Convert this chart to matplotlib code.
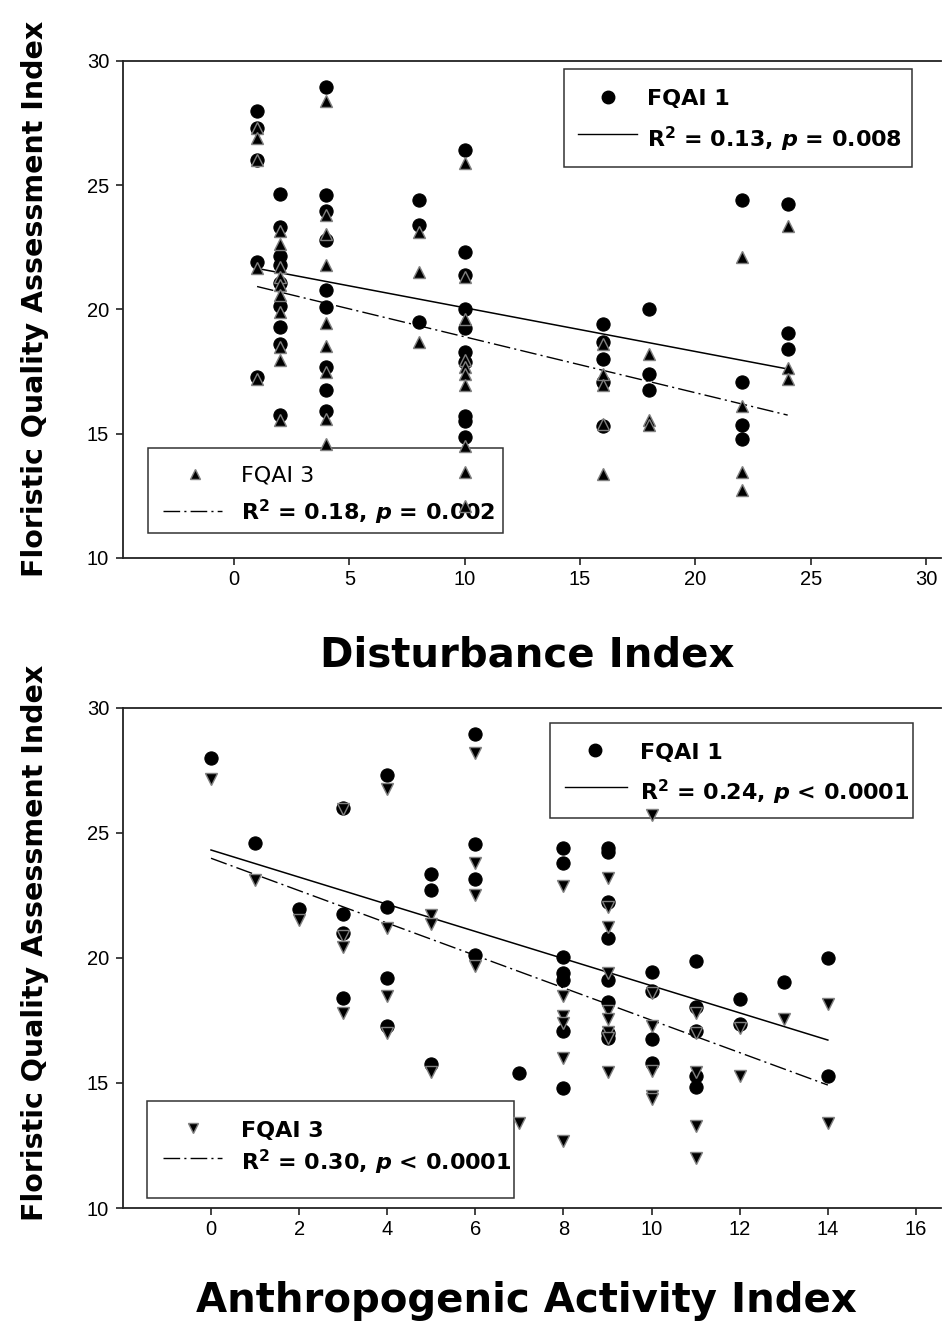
import matplotlib
matplotlib.use('Agg')
import matplotlib.pyplot as plt
import numpy as np
from matplotlib.lines import Line2D
from matplotlib.patches import Rectangle

plt.rcParams['mathtext.fontset'] = 'custom'
plt.rcParams['mathtext.rm'] = 'DejaVu Sans:bold'
plt.rcParams['mathtext.it'] = 'DejaVu Sans:italic:bold'
plt.rcParams['mathtext.bf'] = 'DejaVu Sans:bold'

# ---------------- data ----------------
# Panel 1: Disturbance Index -> FQAI values
di_fqai1 = {
    1: [28.0, 27.3, 26.0, 21.9, 17.3],
    2: [24.65, 23.3, 22.15, 21.8, 21.05, 20.15, 19.3, 18.6, 15.75],
    4: [28.95, 24.6, 23.95, 22.8, 20.8, 20.1, 17.7, 16.75, 15.9],
    8: [24.4, 23.4, 19.5],
    10: [26.4, 22.3, 21.4, 20.0, 19.25, 18.3, 17.9, 15.7, 15.5, 14.85],
    16: [19.4, 18.7, 18.0, 17.1, 15.3],
    18: [20.0, 17.4, 16.75],
    22: [24.4, 17.1, 15.35, 14.8],
    24: [24.25, 19.05, 18.4],
}
di_fqai3 = {
    1: [27.3, 26.9, 26.0, 21.65, 17.2],
    2: [23.15, 22.65, 21.7, 21.3, 21.0, 20.6, 19.9, 18.5, 17.95, 15.55],
    4: [28.4, 23.8, 23.05, 21.8, 19.45, 18.55, 17.5, 15.6, 14.6],
    8: [23.1, 21.5, 18.7],
    10: [25.9, 21.3, 19.6, 17.95, 17.7, 17.4, 16.95, 14.5, 13.45, 12.1],
    16: [18.6, 17.4, 16.95, 15.4, 13.4],
    18: [18.2, 15.55, 15.35],
    22: [22.1, 16.1, 13.45, 12.75],
    24: [23.35, 17.65, 17.2],
}
# Panel 2: Anthropogenic Activity Index -> FQAI values
aai_fqai1 = {
    0: [28.0],
    1: [24.6],
    2: [21.95],
    3: [26.0, 21.75, 21.0, 18.4],
    4: [27.3, 22.05, 19.2, 17.3],
    5: [23.35, 22.7, 15.75],
    6: [28.95, 24.55, 23.15, 20.1],
    7: [15.4],
    8: [24.4, 23.8, 20.05, 19.4, 19.1, 17.1, 14.8],
    9: [24.4, 24.25, 22.25, 20.8, 19.1, 18.25, 17.0, 16.8],
    10: [19.45, 18.7, 16.75, 15.8],
    11: [19.9, 18.05, 17.1, 15.3, 14.85],
    12: [18.35, 17.35],
    13: [19.05],
    14: [20.0, 15.3],
}
aai_fqai3 = {
    0: [27.15],
    1: [23.1],
    2: [21.5],
    3: [25.95, 20.9, 20.45, 17.8],
    4: [26.75, 21.2, 18.5, 17.0],
    5: [21.7, 21.35, 15.45],
    6: [28.2, 23.8, 22.5, 19.7],
    7: [13.4],
    8: [22.9, 18.5, 17.7, 17.4, 16.0, 12.7],
    9: [23.2, 22.05, 21.25, 19.4, 17.9, 17.55, 17.05, 16.8, 15.45],
    10: [25.7, 18.6, 17.3, 15.5, 14.5, 14.35],
    11: [17.8, 17.0, 15.45, 13.3, 12.0],
    12: [17.2, 15.3],
    13: [17.55],
    14: [18.15, 13.4],
}
# regression lines (intercept, slope) as drawn in the reference
di_fit1 = (21.83, -0.176)
di_fit3 = (21.15, -0.225)
aai_fit1 = (24.32, -0.543)
aai_fit3 = (23.99, -0.648)

di_ticks = [0, 5, 10, 15, 20, 25, 30]
aai_ticks = [0, 2, 4, 6, 8, 10, 12, 14, 16]
y_ticks = [10, 15, 20, 25, 30]

labels_di = ["FQAI 1", r"$\mathrm{R^2}$ = 0.13, $p$ = 0.008",
             "FQAI 3", r"$\mathrm{R^2}$ = 0.18, $p$ = 0.002"]
labels_aai = ["FQAI 1", r"$\mathrm{R^2}$ = 0.24, $p$ < 0.0001",
              "FQAI 3", r"$\mathrm{R^2}$ = 0.30, $p$ < 0.0001"]

# ---------------- figure ----------------
W, H = 943, 1325
fig = plt.figure(figsize=(W / 100, H / 100), dpi=100)


def fx(px):
    return px / W


def fy(py):
    return 1 - py / H


def flatten(d):
    xs, ys = [], []
    for k, v in d.items():
        xs += [k] * len(v)
        ys += v
    return np.array(xs, float), np.array(ys, float)


TICKFONT = 'Liberation Sans'
DASHDOT = (0, (12, 3, 1.5, 3))
circ_kw = dict(marker='o', ms=9.5, mfc='black', mec='black', mew=0.8, ls='none')
tri_edge = '#808080'


def setup_axes(ax, xlim, xticks):
    ax.set_xlim(*xlim)
    ax.set_ylim(10, 30)
    ax.set_xticks(xticks)
    ax.set_yticks(y_ticks)
    for s in ['left', 'bottom', 'top']:
        ax.spines[s].set_linewidth(1.3)
        ax.spines[s].set_color('#222222')
    ax.spines['right'].set_visible(False)
    ax.tick_params(direction='out', length=5, width=1.2, color='#222222',
                   labelsize=14.5, top=False, right=False)
    ax.tick_params(axis='y', pad=5)
    ax.tick_params(axis='x', pad=3.5)
    for lab in ax.get_xticklabels() + ax.get_yticklabels():
        lab.set_fontfamily(TICKFONT)


def draw_legend(ax, box, rows, fs=16):
    x0, y0, x1, y1 = box
    ax.add_patch(Rectangle((fx(x0), fy(y1)), fx(x1) - fx(x0), (y1 - y0) / H,
                           transform=fig.transFigure, facecolor='white',
                           edgecolor='#333333', lw=1.1, zorder=1, clip_on=False))
    for r in rows:
        kind = r['kind']
        if kind == 'marker':
            ax.add_line(Line2D([fx(r['hx'])], [fy(r['hy'])], transform=fig.transFigure,
                               clip_on=False, zorder=1.2, **r['style']))
        else:
            ax.add_line(Line2D([fx(r['hx'][0]), fx(r['hx'][1])], [fy(r['hy'])] * 2,
                               transform=fig.transFigure, clip_on=False, zorder=1.2,
                               color='black', lw=1.0, ls=r['ls']))
        ax.text(fx(r['tx']), fy(r['ty']), r['text'], transform=fig.transFigure,
                ha='left', va='baseline', fontsize=fs, fontweight=r.get('weight', 'bold'),
                family='DejaVu Sans', zorder=1.3, clip_on=False)


# ---------------- top panel ----------------
ax1 = fig.add_axes([fx(123), fy(558), fx(941) - fx(123), (558 - 61) / H])
setup_axes(ax1, ((123 - 234) / 23.07, (941 - 234) / 23.07), di_ticks)
x1, y1 = flatten(di_fqai1)
x3, y3 = flatten(di_fqai3)
ax1.plot(x1, y1, zorder=3, **circ_kw)
ax1.plot(x3, y3, marker='^', ms=8.5, mfc='black', mec=tri_edge, mew=1.0, ls='none', zorder=4)
xl = np.array([min(x1), max(x1)])
ax1.plot(xl, di_fit1[0] + di_fit1[1] * xl, color='black', lw=1.1, zorder=2)
ax1.plot(xl, di_fit3[0] + di_fit3[1] * xl, color='black', lw=1.0, ls=DASHDOT, zorder=2)

draw_legend(ax1, (564, 69, 912, 167), [
    dict(kind='marker', hx=608, hy=97, style=dict(marker='o', ms=9, mfc='black', mec='black', ls='none'),
         tx=647, ty=105, text=labels_di[0]),
    dict(kind='line', hx=(578, 637), hy=134, ls='-', tx=647, ty=147, text=labels_di[1]),
])
draw_legend(ax1, (148, 448, 503, 533), [
    dict(kind='marker', hx=195, hy=474, style=dict(marker='^', ms=7.5, mfc='black', mec=tri_edge, ls='none'),
         tx=241, ty=482, text=labels_di[2], weight='normal'),
    dict(kind='line', hx=(163, 222), hy=511, ls=DASHDOT, tx=241, ty=520, text=labels_di[3]),
])

# ---------------- bottom panel ----------------
ax2 = fig.add_axes([fx(123), fy(1208), fx(941) - fx(123), (1208 - 708) / H])
setup_axes(ax2, ((123 - 211) / 44.06, (941 - 211) / 44.06), aai_ticks)
x1, y1 = flatten(aai_fqai1)
x3, y3 = flatten(aai_fqai3)
ax2.plot(x1, y1, zorder=3, **circ_kw)
ax2.plot(x3, y3, marker='v', ms=8.5, mfc='black', mec=tri_edge, mew=1.0, ls='none', zorder=4)
xl = np.array([min(x1), max(x1)])
ax2.plot(xl, aai_fit1[0] + aai_fit1[1] * xl, color='black', lw=1.1, zorder=2)
ax2.plot(xl, aai_fit3[0] + aai_fit3[1] * xl, color='black', lw=1.0, ls=DASHDOT, zorder=2)

draw_legend(ax2, (550, 723, 913, 818), [
    dict(kind='marker', hx=595, hy=750, style=dict(marker='o', ms=9, mfc='black', mec='black', ls='none'),
         tx=640, ty=759, text=labels_aai[0]),
    dict(kind='line', hx=(565, 627), hy=787, ls='-', tx=640, ty=800, text=labels_aai[1]),
])
draw_legend(ax2, (147, 1101, 514, 1198), [
    dict(kind='marker', hx=193, hy=1128, style=dict(marker='v', ms=7.5, mfc='black', mec=tri_edge, ls='none'),
         tx=241, ty=1137, text=labels_aai[2]),
    dict(kind='line', hx=(163, 222), hy=1158, ls=DASHDOT, tx=241, ty=1170, text=labels_aai[3]),
])

# ---------------- axis titles ----------------
fig.text(fx(527), fy(667), "Disturbance Index", ha='center', va='baseline',
         fontsize=29, fontweight='bold', family='DejaVu Sans')
fig.text(fx(526), fy(1312), "Anthropogenic Activity Index", ha='center', va='baseline',
         fontsize=29, fontweight='bold', family='DejaVu Sans')
fig.text(fx(35), fy(299), "Floristic Quality Assessment Index", ha='center', va='center',
         rotation=90, fontsize=20.5, fontweight='bold', family='DejaVu Sans')
fig.text(fx(35), fy(943), "Floristic Quality Assessment Index", ha='center', va='center',
         rotation=90, fontsize=20.5, fontweight='bold', family='DejaVu Sans')

fig.savefig('out.png', dpi=100)
